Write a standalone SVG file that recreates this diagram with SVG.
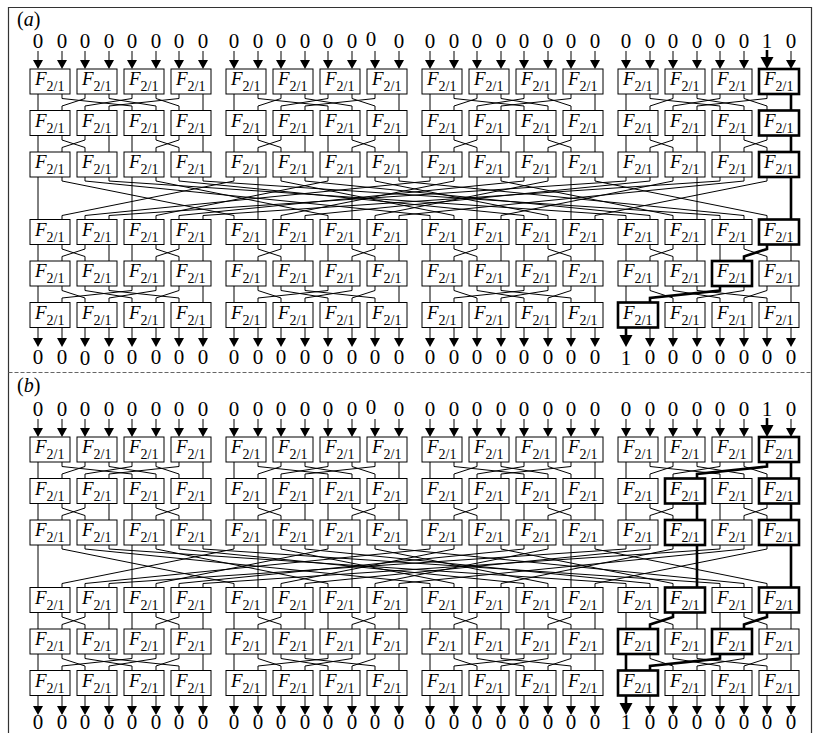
<svg xmlns="http://www.w3.org/2000/svg" width="814" height="733" viewBox="0 0 814 733">
<style>
.n rect{fill:#fff;stroke:#000;stroke-width:1}
.k rect{stroke-width:2.6}
.n text{font-family:"Liberation Serif","Times New Roman",serif;font-style:italic;font-size:19px;fill:#000}
.n tspan{font-style:normal;font-size:14px}
.w{fill:none;stroke:#000;stroke-width:1}
.wb{fill:none;stroke:#000;stroke-width:2.6}
.ah{fill:#000;stroke:none}
.d{font-family:"Liberation Serif","Times New Roman",serif;font-size:21px;text-anchor:middle;fill:#000}
.lb{font-family:"Liberation Serif","Times New Roman",serif;font-size:20px;fill:#000}
</style>
<rect width="814" height="733" fill="#fff"/>
<g id="frame" fill="none" stroke="#333" stroke-width="1.2">
<path d="M8.5 733V7.5H811.5V733"/>
<path d="M8.5 372.5H811.5" stroke="#666" stroke-dasharray="4 2"/>
</g>
<text class="lb" x="17" y="26">(<tspan font-style="italic">a</tspan>)</text>
<text class="lb" x="17" y="392">(<tspan font-style="italic">b</tspan>)</text>
<g id="connectors">
<g id="conn-a">
<path class="w" d="M38 94V110.5M62 94V98.5L132 106V110.5M85 94V98.5L62 106V110.5M109 94V98.5L156 106V110.5M132 94V98.5L85 106V110.5M156 94V98.5L179 106V110.5M179 94V98.5L109 106V110.5M203 94V110.5M234 94V110.5M258 94V98.5L328 106V110.5M281 94V98.5L258 106V110.5M305 94V98.5L352 106V110.5M328 94V98.5L281 106V110.5M352 94V98.5L375 106V110.5M375 94V98.5L305 106V110.5M399 94V110.5M430 94V110.5M454 94V98.5L524 106V110.5M477 94V98.5L454 106V110.5M501 94V98.5L548 106V110.5M524 94V98.5L477 106V110.5M548 94V98.5L571 106V110.5M571 94V98.5L501 106V110.5M595 94V110.5M626 94V110.5M650 94V98.5L720 106V110.5M673 94V98.5L650 106V110.5M697 94V98.5L744 106V110.5M720 94V98.5L673 106V110.5M744 94V98.5L767 106V110.5M767 94V98.5L697 106V110.5M791 94V110.5"/>
<path class="w" d="M38 135.5V152M62 135.5V140L85 147.5V152M85 135.5V140L62 147.5V152M109 135.5V152M132 135.5V152M156 135.5V140L179 147.5V152M179 135.5V140L156 147.5V152M203 135.5V152M234 135.5V152M258 135.5V140L281 147.5V152M281 135.5V140L258 147.5V152M305 135.5V152M328 135.5V152M352 135.5V140L375 147.5V152M375 135.5V140L352 147.5V152M399 135.5V152M430 135.5V152M454 135.5V140L477 147.5V152M477 135.5V140L454 147.5V152M501 135.5V152M524 135.5V152M548 135.5V140L571 147.5V152M571 135.5V140L548 147.5V152M595 135.5V152M626 135.5V152M650 135.5V140L673 147.5V152M673 135.5V140L650 147.5V152M697 135.5V152M720 135.5V152M744 135.5V140L767 147.5V152M767 135.5V140L744 147.5V152M791 135.5V152"/>
<path class="w" d="M38 177V219.5M62 177V181L234 215.5V219.5M85 177V181L430 215.5V219.5M109 177V181L626 215.5V219.5M132 177V219.5M156 177V181L328 215.5V219.5M179 177V181L524 215.5V219.5M203 177V181L720 215.5V219.5M234 177V181L62 215.5V219.5M258 177V219.5M281 177V181L454 215.5V219.5M305 177V181L650 215.5V219.5M328 177V181L156 215.5V219.5M352 177V219.5M375 177V181L548 215.5V219.5M399 177V181L744 215.5V219.5M430 177V181L85 215.5V219.5M454 177V181L281 215.5V219.5M477 177V219.5M501 177V181L673 215.5V219.5M524 177V181L179 215.5V219.5M548 177V181L375 215.5V219.5M571 177V219.5M595 177V181L767 215.5V219.5M626 177V181L109 215.5V219.5M650 177V181L305 215.5V219.5M673 177V181L501 215.5V219.5M697 177V219.5M720 177V181L203 215.5V219.5M744 177V181L399 215.5V219.5M767 177V181L595 215.5V219.5M791 177V219.5"/>
<path class="w" d="M38 244.5V261M62 244.5V249L85 256.5V261M85 244.5V249L62 256.5V261M109 244.5V261M132 244.5V261M156 244.5V249L179 256.5V261M179 244.5V249L156 256.5V261M203 244.5V261M234 244.5V261M258 244.5V249L281 256.5V261M281 244.5V249L258 256.5V261M305 244.5V261M328 244.5V261M352 244.5V249L375 256.5V261M375 244.5V249L352 256.5V261M399 244.5V261M430 244.5V261M454 244.5V249L477 256.5V261M477 244.5V249L454 256.5V261M501 244.5V261M524 244.5V261M548 244.5V249L571 256.5V261M571 244.5V249L548 256.5V261M595 244.5V261M626 244.5V261M650 244.5V249L673 256.5V261M673 244.5V249L650 256.5V261M697 244.5V261M720 244.5V261M744 244.5V249L767 256.5V261M767 244.5V249L744 256.5V261M791 244.5V261"/>
<path class="w" d="M38 286V302.5M62 286V290.5L85 298V302.5M85 286V290.5L132 298V302.5M109 286V290.5L179 298V302.5M132 286V290.5L62 298V302.5M156 286V290.5L109 298V302.5M179 286V290.5L156 298V302.5M203 286V302.5M234 286V302.5M258 286V290.5L281 298V302.5M281 286V290.5L328 298V302.5M305 286V290.5L375 298V302.5M328 286V290.5L258 298V302.5M352 286V290.5L305 298V302.5M375 286V290.5L352 298V302.5M399 286V302.5M430 286V302.5M454 286V290.5L477 298V302.5M477 286V290.5L524 298V302.5M501 286V290.5L571 298V302.5M524 286V290.5L454 298V302.5M548 286V290.5L501 298V302.5M571 286V290.5L548 298V302.5M595 286V302.5M626 286V302.5M650 286V290.5L673 298V302.5M673 286V290.5L720 298V302.5M697 286V290.5L767 298V302.5M720 286V290.5L650 298V302.5M744 286V290.5L697 298V302.5M767 286V290.5L744 298V302.5M791 286V302.5"/>
<path class="wb" d="M791 94V110.5M791 135.5V152M791 177V219.5M767 244.5V249L744 256.5V261M720 286V290.5L650 298V302.5"/>
</g>
<g id="conn-b" transform="translate(0 368)">
<path class="w" d="M38 94V110.5M62 94V98.5L132 106V110.5M85 94V98.5L62 106V110.5M109 94V98.5L156 106V110.5M132 94V98.5L85 106V110.5M156 94V98.5L179 106V110.5M179 94V98.5L109 106V110.5M203 94V110.5M234 94V110.5M258 94V98.5L328 106V110.5M281 94V98.5L258 106V110.5M305 94V98.5L352 106V110.5M328 94V98.5L281 106V110.5M352 94V98.5L375 106V110.5M375 94V98.5L305 106V110.5M399 94V110.5M430 94V110.5M454 94V98.5L524 106V110.5M477 94V98.5L454 106V110.5M501 94V98.5L548 106V110.5M524 94V98.5L477 106V110.5M548 94V98.5L571 106V110.5M571 94V98.5L501 106V110.5M595 94V110.5M626 94V110.5M650 94V98.5L720 106V110.5M673 94V98.5L650 106V110.5M697 94V98.5L744 106V110.5M720 94V98.5L673 106V110.5M744 94V98.5L767 106V110.5M767 94V98.5L697 106V110.5M791 94V110.5"/>
<path class="w" d="M38 135.5V152M62 135.5V140L85 147.5V152M85 135.5V140L62 147.5V152M109 135.5V152M132 135.5V152M156 135.5V140L179 147.5V152M179 135.5V140L156 147.5V152M203 135.5V152M234 135.5V152M258 135.5V140L281 147.5V152M281 135.5V140L258 147.5V152M305 135.5V152M328 135.5V152M352 135.5V140L375 147.5V152M375 135.5V140L352 147.5V152M399 135.5V152M430 135.5V152M454 135.5V140L477 147.5V152M477 135.5V140L454 147.5V152M501 135.5V152M524 135.5V152M548 135.5V140L571 147.5V152M571 135.5V140L548 147.5V152M595 135.5V152M626 135.5V152M650 135.5V140L673 147.5V152M673 135.5V140L650 147.5V152M697 135.5V152M720 135.5V152M744 135.5V140L767 147.5V152M767 135.5V140L744 147.5V152M791 135.5V152"/>
<path class="w" d="M38 177V219.5M62 177V181L234 215.5V219.5M85 177V181L430 215.5V219.5M109 177V181L626 215.5V219.5M132 177V219.5M156 177V181L328 215.5V219.5M179 177V181L524 215.5V219.5M203 177V181L720 215.5V219.5M234 177V181L62 215.5V219.5M258 177V219.5M281 177V181L454 215.5V219.5M305 177V181L650 215.5V219.5M328 177V181L156 215.5V219.5M352 177V219.5M375 177V181L548 215.5V219.5M399 177V181L744 215.5V219.5M430 177V181L85 215.5V219.5M454 177V181L281 215.5V219.5M477 177V219.5M501 177V181L673 215.5V219.5M524 177V181L179 215.5V219.5M548 177V181L375 215.5V219.5M571 177V219.5M595 177V181L767 215.5V219.5M626 177V181L109 215.5V219.5M650 177V181L305 215.5V219.5M673 177V181L501 215.5V219.5M697 177V219.5M720 177V181L203 215.5V219.5M744 177V181L399 215.5V219.5M767 177V181L595 215.5V219.5M791 177V219.5"/>
<path class="w" d="M38 244.5V261M62 244.5V249L85 256.5V261M85 244.5V249L62 256.5V261M109 244.5V261M132 244.5V261M156 244.5V249L179 256.5V261M179 244.5V249L156 256.5V261M203 244.5V261M234 244.5V261M258 244.5V249L281 256.5V261M281 244.5V249L258 256.5V261M305 244.5V261M328 244.5V261M352 244.5V249L375 256.5V261M375 244.5V249L352 256.5V261M399 244.5V261M430 244.5V261M454 244.5V249L477 256.5V261M477 244.5V249L454 256.5V261M501 244.5V261M524 244.5V261M548 244.5V249L571 256.5V261M571 244.5V249L548 256.5V261M595 244.5V261M626 244.5V261M650 244.5V249L673 256.5V261M673 244.5V249L650 256.5V261M697 244.5V261M720 244.5V261M744 244.5V249L767 256.5V261M767 244.5V249L744 256.5V261M791 244.5V261"/>
<path class="w" d="M38 286V302.5M62 286V290.5L85 298V302.5M85 286V290.5L132 298V302.5M109 286V290.5L179 298V302.5M132 286V290.5L62 298V302.5M156 286V290.5L109 298V302.5M179 286V290.5L156 298V302.5M203 286V302.5M234 286V302.5M258 286V290.5L281 298V302.5M281 286V290.5L328 298V302.5M305 286V290.5L375 298V302.5M328 286V290.5L258 298V302.5M352 286V290.5L305 298V302.5M375 286V290.5L352 298V302.5M399 286V302.5M430 286V302.5M454 286V290.5L477 298V302.5M477 286V290.5L524 298V302.5M501 286V290.5L571 298V302.5M524 286V290.5L454 298V302.5M548 286V290.5L501 298V302.5M571 286V290.5L548 298V302.5M595 286V302.5M626 286V302.5M650 286V290.5L673 298V302.5M673 286V290.5L720 298V302.5M697 286V290.5L767 298V302.5M720 286V290.5L650 298V302.5M744 286V290.5L697 298V302.5M767 286V290.5L744 298V302.5M791 286V302.5"/>
<path class="wb" d="M767 94V98.5L697 106V110.5M791 94V110.5M697 135.5V152M791 135.5V152M697 177V219.5M791 177V219.5M673 244.5V249L650 256.5V261M767 244.5V249L744 256.5V261M626 286V302.5M720 286V290.5L650 298V302.5"/>
</g>
<g id="io-arrows-a">
<path class="w" d="M38 51V61M62 51V61M85 51V61M109 51V61M132 51V61M156 51V61M179 51V61M203 51V61M234 51V61M258 51V61M281 51V61M305 51V61M328 51V61M352 51V61M375 51V61M399 51V61M430 51V61M454 51V61M477 51V61M501 51V61M524 51V61M548 51V61M571 51V61M595 51V61M626 51V61M650 51V61M673 51V61M697 51V61M720 51V61M744 51V61M791 51V61"/>
<path class="ah" d="M33 60h10l-5 9zM57 60h10l-5 9zM80 60h10l-5 9zM104 60h10l-5 9zM127 60h10l-5 9zM151 60h10l-5 9zM174 60h10l-5 9zM198 60h10l-5 9zM229 60h10l-5 9zM253 60h10l-5 9zM276 60h10l-5 9zM300 60h10l-5 9zM323 60h10l-5 9zM347 60h10l-5 9zM370 60h10l-5 9zM394 60h10l-5 9zM425 60h10l-5 9zM449 60h10l-5 9zM472 60h10l-5 9zM496 60h10l-5 9zM519 60h10l-5 9zM543 60h10l-5 9zM566 60h10l-5 9zM590 60h10l-5 9zM621 60h10l-5 9zM645 60h10l-5 9zM668 60h10l-5 9zM692 60h10l-5 9zM715 60h10l-5 9zM739 60h10l-5 9zM786 60h10l-5 9z"/>
<path class="wb" d="M767 50V59"/>
<path class="ah" d="M760.5 57h13l-6.5 12z"/>
<path class="w" d="M38 327.5V339M62 327.5V339M85 327.5V339M109 327.5V339M132 327.5V339M156 327.5V339M179 327.5V339M203 327.5V339M234 327.5V339M258 327.5V339M281 327.5V339M305 327.5V339M328 327.5V339M352 327.5V339M375 327.5V339M399 327.5V339M430 327.5V339M454 327.5V339M477 327.5V339M501 327.5V339M524 327.5V339M548 327.5V339M571 327.5V339M595 327.5V339M650 327.5V339M673 327.5V339M697 327.5V339M720 327.5V339M744 327.5V339M767 327.5V339M791 327.5V339"/>
<path class="ah" d="M33 338h10l-5 9zM57 338h10l-5 9zM80 338h10l-5 9zM104 338h10l-5 9zM127 338h10l-5 9zM151 338h10l-5 9zM174 338h10l-5 9zM198 338h10l-5 9zM229 338h10l-5 9zM253 338h10l-5 9zM276 338h10l-5 9zM300 338h10l-5 9zM323 338h10l-5 9zM347 338h10l-5 9zM370 338h10l-5 9zM394 338h10l-5 9zM425 338h10l-5 9zM449 338h10l-5 9zM472 338h10l-5 9zM496 338h10l-5 9zM519 338h10l-5 9zM543 338h10l-5 9zM566 338h10l-5 9zM590 338h10l-5 9zM645 338h10l-5 9zM668 338h10l-5 9zM692 338h10l-5 9zM715 338h10l-5 9zM739 338h10l-5 9zM762 338h10l-5 9zM786 338h10l-5 9z"/>
<path class="wb" d="M626 327.5V337"/>
<path class="ah" d="M619.5 335h13l-6.5 12z"/>
</g>
<g id="io-arrows-b" transform="translate(0 368)">
<path class="w" d="M38 51V61M62 51V61M85 51V61M109 51V61M132 51V61M156 51V61M179 51V61M203 51V61M234 51V61M258 51V61M281 51V61M305 51V61M328 51V61M352 51V61M375 51V61M399 51V61M430 51V61M454 51V61M477 51V61M501 51V61M524 51V61M548 51V61M571 51V61M595 51V61M626 51V61M650 51V61M673 51V61M697 51V61M720 51V61M744 51V61M791 51V61"/>
<path class="ah" d="M33 60h10l-5 9zM57 60h10l-5 9zM80 60h10l-5 9zM104 60h10l-5 9zM127 60h10l-5 9zM151 60h10l-5 9zM174 60h10l-5 9zM198 60h10l-5 9zM229 60h10l-5 9zM253 60h10l-5 9zM276 60h10l-5 9zM300 60h10l-5 9zM323 60h10l-5 9zM347 60h10l-5 9zM370 60h10l-5 9zM394 60h10l-5 9zM425 60h10l-5 9zM449 60h10l-5 9zM472 60h10l-5 9zM496 60h10l-5 9zM519 60h10l-5 9zM543 60h10l-5 9zM566 60h10l-5 9zM590 60h10l-5 9zM621 60h10l-5 9zM645 60h10l-5 9zM668 60h10l-5 9zM692 60h10l-5 9zM715 60h10l-5 9zM739 60h10l-5 9zM786 60h10l-5 9z"/>
<path class="wb" d="M767 50V59"/>
<path class="ah" d="M760.5 57h13l-6.5 12z"/>
<path class="w" d="M38 327.5V339M62 327.5V339M85 327.5V339M109 327.5V339M132 327.5V339M156 327.5V339M179 327.5V339M203 327.5V339M234 327.5V339M258 327.5V339M281 327.5V339M305 327.5V339M328 327.5V339M352 327.5V339M375 327.5V339M399 327.5V339M430 327.5V339M454 327.5V339M477 327.5V339M501 327.5V339M524 327.5V339M548 327.5V339M571 327.5V339M595 327.5V339M650 327.5V339M673 327.5V339M697 327.5V339M720 327.5V339M744 327.5V339M767 327.5V339M791 327.5V339"/>
<path class="ah" d="M33 338h10l-5 9zM57 338h10l-5 9zM80 338h10l-5 9zM104 338h10l-5 9zM127 338h10l-5 9zM151 338h10l-5 9zM174 338h10l-5 9zM198 338h10l-5 9zM229 338h10l-5 9zM253 338h10l-5 9zM276 338h10l-5 9zM300 338h10l-5 9zM323 338h10l-5 9zM347 338h10l-5 9zM370 338h10l-5 9zM394 338h10l-5 9zM425 338h10l-5 9zM449 338h10l-5 9zM472 338h10l-5 9zM496 338h10l-5 9zM519 338h10l-5 9zM543 338h10l-5 9zM566 338h10l-5 9zM590 338h10l-5 9zM645 338h10l-5 9zM668 338h10l-5 9zM692 338h10l-5 9zM715 338h10l-5 9zM739 338h10l-5 9zM762 338h10l-5 9zM786 338h10l-5 9z"/>
<path class="wb" d="M626 327.5V337"/>
<path class="ah" d="M619.5 335h13l-6.5 12z"/>
</g>
</g>
<g id="nodes-a">
<g id="a-r1-c1" class="n" transform="translate(30 69)"><rect width="40" height="25"/><text x="5" y="16">F<tspan dy="6">2/1</tspan></text></g>
<g id="a-r1-c2" class="n" transform="translate(77 69)"><rect width="40" height="25"/><text x="5" y="16">F<tspan dy="6">2/1</tspan></text></g>
<g id="a-r1-c3" class="n" transform="translate(124 69)"><rect width="40" height="25"/><text x="5" y="16">F<tspan dy="6">2/1</tspan></text></g>
<g id="a-r1-c4" class="n" transform="translate(171 69)"><rect width="40" height="25"/><text x="5" y="16">F<tspan dy="6">2/1</tspan></text></g>
<g id="a-r1-c5" class="n" transform="translate(226 69)"><rect width="40" height="25"/><text x="5" y="16">F<tspan dy="6">2/1</tspan></text></g>
<g id="a-r1-c6" class="n" transform="translate(273 69)"><rect width="40" height="25"/><text x="5" y="16">F<tspan dy="6">2/1</tspan></text></g>
<g id="a-r1-c7" class="n" transform="translate(320 69)"><rect width="40" height="25"/><text x="5" y="16">F<tspan dy="6">2/1</tspan></text></g>
<g id="a-r1-c8" class="n" transform="translate(367 69)"><rect width="40" height="25"/><text x="5" y="16">F<tspan dy="6">2/1</tspan></text></g>
<g id="a-r1-c9" class="n" transform="translate(422 69)"><rect width="40" height="25"/><text x="5" y="16">F<tspan dy="6">2/1</tspan></text></g>
<g id="a-r1-c10" class="n" transform="translate(469 69)"><rect width="40" height="25"/><text x="5" y="16">F<tspan dy="6">2/1</tspan></text></g>
<g id="a-r1-c11" class="n" transform="translate(516 69)"><rect width="40" height="25"/><text x="5" y="16">F<tspan dy="6">2/1</tspan></text></g>
<g id="a-r1-c12" class="n" transform="translate(563 69)"><rect width="40" height="25"/><text x="5" y="16">F<tspan dy="6">2/1</tspan></text></g>
<g id="a-r1-c13" class="n" transform="translate(618 69)"><rect width="40" height="25"/><text x="5" y="16">F<tspan dy="6">2/1</tspan></text></g>
<g id="a-r1-c14" class="n" transform="translate(665 69)"><rect width="40" height="25"/><text x="5" y="16">F<tspan dy="6">2/1</tspan></text></g>
<g id="a-r1-c15" class="n" transform="translate(712 69)"><rect width="40" height="25"/><text x="5" y="16">F<tspan dy="6">2/1</tspan></text></g>
<g id="a-r1-c16" class="n k" transform="translate(759 69)"><rect width="40" height="25"/><text x="5" y="16">F<tspan dy="6">2/1</tspan></text></g>
<g id="a-r2-c1" class="n" transform="translate(30 110.5)"><rect width="40" height="25"/><text x="5" y="16">F<tspan dy="6">2/1</tspan></text></g>
<g id="a-r2-c2" class="n" transform="translate(77 110.5)"><rect width="40" height="25"/><text x="5" y="16">F<tspan dy="6">2/1</tspan></text></g>
<g id="a-r2-c3" class="n" transform="translate(124 110.5)"><rect width="40" height="25"/><text x="5" y="16">F<tspan dy="6">2/1</tspan></text></g>
<g id="a-r2-c4" class="n" transform="translate(171 110.5)"><rect width="40" height="25"/><text x="5" y="16">F<tspan dy="6">2/1</tspan></text></g>
<g id="a-r2-c5" class="n" transform="translate(226 110.5)"><rect width="40" height="25"/><text x="5" y="16">F<tspan dy="6">2/1</tspan></text></g>
<g id="a-r2-c6" class="n" transform="translate(273 110.5)"><rect width="40" height="25"/><text x="5" y="16">F<tspan dy="6">2/1</tspan></text></g>
<g id="a-r2-c7" class="n" transform="translate(320 110.5)"><rect width="40" height="25"/><text x="5" y="16">F<tspan dy="6">2/1</tspan></text></g>
<g id="a-r2-c8" class="n" transform="translate(367 110.5)"><rect width="40" height="25"/><text x="5" y="16">F<tspan dy="6">2/1</tspan></text></g>
<g id="a-r2-c9" class="n" transform="translate(422 110.5)"><rect width="40" height="25"/><text x="5" y="16">F<tspan dy="6">2/1</tspan></text></g>
<g id="a-r2-c10" class="n" transform="translate(469 110.5)"><rect width="40" height="25"/><text x="5" y="16">F<tspan dy="6">2/1</tspan></text></g>
<g id="a-r2-c11" class="n" transform="translate(516 110.5)"><rect width="40" height="25"/><text x="5" y="16">F<tspan dy="6">2/1</tspan></text></g>
<g id="a-r2-c12" class="n" transform="translate(563 110.5)"><rect width="40" height="25"/><text x="5" y="16">F<tspan dy="6">2/1</tspan></text></g>
<g id="a-r2-c13" class="n" transform="translate(618 110.5)"><rect width="40" height="25"/><text x="5" y="16">F<tspan dy="6">2/1</tspan></text></g>
<g id="a-r2-c14" class="n" transform="translate(665 110.5)"><rect width="40" height="25"/><text x="5" y="16">F<tspan dy="6">2/1</tspan></text></g>
<g id="a-r2-c15" class="n" transform="translate(712 110.5)"><rect width="40" height="25"/><text x="5" y="16">F<tspan dy="6">2/1</tspan></text></g>
<g id="a-r2-c16" class="n k" transform="translate(759 110.5)"><rect width="40" height="25"/><text x="5" y="16">F<tspan dy="6">2/1</tspan></text></g>
<g id="a-r3-c1" class="n" transform="translate(30 152)"><rect width="40" height="25"/><text x="5" y="16">F<tspan dy="6">2/1</tspan></text></g>
<g id="a-r3-c2" class="n" transform="translate(77 152)"><rect width="40" height="25"/><text x="5" y="16">F<tspan dy="6">2/1</tspan></text></g>
<g id="a-r3-c3" class="n" transform="translate(124 152)"><rect width="40" height="25"/><text x="5" y="16">F<tspan dy="6">2/1</tspan></text></g>
<g id="a-r3-c4" class="n" transform="translate(171 152)"><rect width="40" height="25"/><text x="5" y="16">F<tspan dy="6">2/1</tspan></text></g>
<g id="a-r3-c5" class="n" transform="translate(226 152)"><rect width="40" height="25"/><text x="5" y="16">F<tspan dy="6">2/1</tspan></text></g>
<g id="a-r3-c6" class="n" transform="translate(273 152)"><rect width="40" height="25"/><text x="5" y="16">F<tspan dy="6">2/1</tspan></text></g>
<g id="a-r3-c7" class="n" transform="translate(320 152)"><rect width="40" height="25"/><text x="5" y="16">F<tspan dy="6">2/1</tspan></text></g>
<g id="a-r3-c8" class="n" transform="translate(367 152)"><rect width="40" height="25"/><text x="5" y="16">F<tspan dy="6">2/1</tspan></text></g>
<g id="a-r3-c9" class="n" transform="translate(422 152)"><rect width="40" height="25"/><text x="5" y="16">F<tspan dy="6">2/1</tspan></text></g>
<g id="a-r3-c10" class="n" transform="translate(469 152)"><rect width="40" height="25"/><text x="5" y="16">F<tspan dy="6">2/1</tspan></text></g>
<g id="a-r3-c11" class="n" transform="translate(516 152)"><rect width="40" height="25"/><text x="5" y="16">F<tspan dy="6">2/1</tspan></text></g>
<g id="a-r3-c12" class="n" transform="translate(563 152)"><rect width="40" height="25"/><text x="5" y="16">F<tspan dy="6">2/1</tspan></text></g>
<g id="a-r3-c13" class="n" transform="translate(618 152)"><rect width="40" height="25"/><text x="5" y="16">F<tspan dy="6">2/1</tspan></text></g>
<g id="a-r3-c14" class="n" transform="translate(665 152)"><rect width="40" height="25"/><text x="5" y="16">F<tspan dy="6">2/1</tspan></text></g>
<g id="a-r3-c15" class="n" transform="translate(712 152)"><rect width="40" height="25"/><text x="5" y="16">F<tspan dy="6">2/1</tspan></text></g>
<g id="a-r3-c16" class="n k" transform="translate(759 152)"><rect width="40" height="25"/><text x="5" y="16">F<tspan dy="6">2/1</tspan></text></g>
<g id="a-r4-c1" class="n" transform="translate(30 219.5)"><rect width="40" height="25"/><text x="5" y="16">F<tspan dy="6">2/1</tspan></text></g>
<g id="a-r4-c2" class="n" transform="translate(77 219.5)"><rect width="40" height="25"/><text x="5" y="16">F<tspan dy="6">2/1</tspan></text></g>
<g id="a-r4-c3" class="n" transform="translate(124 219.5)"><rect width="40" height="25"/><text x="5" y="16">F<tspan dy="6">2/1</tspan></text></g>
<g id="a-r4-c4" class="n" transform="translate(171 219.5)"><rect width="40" height="25"/><text x="5" y="16">F<tspan dy="6">2/1</tspan></text></g>
<g id="a-r4-c5" class="n" transform="translate(226 219.5)"><rect width="40" height="25"/><text x="5" y="16">F<tspan dy="6">2/1</tspan></text></g>
<g id="a-r4-c6" class="n" transform="translate(273 219.5)"><rect width="40" height="25"/><text x="5" y="16">F<tspan dy="6">2/1</tspan></text></g>
<g id="a-r4-c7" class="n" transform="translate(320 219.5)"><rect width="40" height="25"/><text x="5" y="16">F<tspan dy="6">2/1</tspan></text></g>
<g id="a-r4-c8" class="n" transform="translate(367 219.5)"><rect width="40" height="25"/><text x="5" y="16">F<tspan dy="6">2/1</tspan></text></g>
<g id="a-r4-c9" class="n" transform="translate(422 219.5)"><rect width="40" height="25"/><text x="5" y="16">F<tspan dy="6">2/1</tspan></text></g>
<g id="a-r4-c10" class="n" transform="translate(469 219.5)"><rect width="40" height="25"/><text x="5" y="16">F<tspan dy="6">2/1</tspan></text></g>
<g id="a-r4-c11" class="n" transform="translate(516 219.5)"><rect width="40" height="25"/><text x="5" y="16">F<tspan dy="6">2/1</tspan></text></g>
<g id="a-r4-c12" class="n" transform="translate(563 219.5)"><rect width="40" height="25"/><text x="5" y="16">F<tspan dy="6">2/1</tspan></text></g>
<g id="a-r4-c13" class="n" transform="translate(618 219.5)"><rect width="40" height="25"/><text x="5" y="16">F<tspan dy="6">2/1</tspan></text></g>
<g id="a-r4-c14" class="n" transform="translate(665 219.5)"><rect width="40" height="25"/><text x="5" y="16">F<tspan dy="6">2/1</tspan></text></g>
<g id="a-r4-c15" class="n" transform="translate(712 219.5)"><rect width="40" height="25"/><text x="5" y="16">F<tspan dy="6">2/1</tspan></text></g>
<g id="a-r4-c16" class="n k" transform="translate(759 219.5)"><rect width="40" height="25"/><text x="5" y="16">F<tspan dy="6">2/1</tspan></text></g>
<g id="a-r5-c1" class="n" transform="translate(30 261)"><rect width="40" height="25"/><text x="5" y="16">F<tspan dy="6">2/1</tspan></text></g>
<g id="a-r5-c2" class="n" transform="translate(77 261)"><rect width="40" height="25"/><text x="5" y="16">F<tspan dy="6">2/1</tspan></text></g>
<g id="a-r5-c3" class="n" transform="translate(124 261)"><rect width="40" height="25"/><text x="5" y="16">F<tspan dy="6">2/1</tspan></text></g>
<g id="a-r5-c4" class="n" transform="translate(171 261)"><rect width="40" height="25"/><text x="5" y="16">F<tspan dy="6">2/1</tspan></text></g>
<g id="a-r5-c5" class="n" transform="translate(226 261)"><rect width="40" height="25"/><text x="5" y="16">F<tspan dy="6">2/1</tspan></text></g>
<g id="a-r5-c6" class="n" transform="translate(273 261)"><rect width="40" height="25"/><text x="5" y="16">F<tspan dy="6">2/1</tspan></text></g>
<g id="a-r5-c7" class="n" transform="translate(320 261)"><rect width="40" height="25"/><text x="5" y="16">F<tspan dy="6">2/1</tspan></text></g>
<g id="a-r5-c8" class="n" transform="translate(367 261)"><rect width="40" height="25"/><text x="5" y="16">F<tspan dy="6">2/1</tspan></text></g>
<g id="a-r5-c9" class="n" transform="translate(422 261)"><rect width="40" height="25"/><text x="5" y="16">F<tspan dy="6">2/1</tspan></text></g>
<g id="a-r5-c10" class="n" transform="translate(469 261)"><rect width="40" height="25"/><text x="5" y="16">F<tspan dy="6">2/1</tspan></text></g>
<g id="a-r5-c11" class="n" transform="translate(516 261)"><rect width="40" height="25"/><text x="5" y="16">F<tspan dy="6">2/1</tspan></text></g>
<g id="a-r5-c12" class="n" transform="translate(563 261)"><rect width="40" height="25"/><text x="5" y="16">F<tspan dy="6">2/1</tspan></text></g>
<g id="a-r5-c13" class="n" transform="translate(618 261)"><rect width="40" height="25"/><text x="5" y="16">F<tspan dy="6">2/1</tspan></text></g>
<g id="a-r5-c14" class="n" transform="translate(665 261)"><rect width="40" height="25"/><text x="5" y="16">F<tspan dy="6">2/1</tspan></text></g>
<g id="a-r5-c15" class="n k" transform="translate(712 261)"><rect width="40" height="25"/><text x="5" y="16">F<tspan dy="6">2/1</tspan></text></g>
<g id="a-r5-c16" class="n" transform="translate(759 261)"><rect width="40" height="25"/><text x="5" y="16">F<tspan dy="6">2/1</tspan></text></g>
<g id="a-r6-c1" class="n" transform="translate(30 302.5)"><rect width="40" height="25"/><text x="5" y="16">F<tspan dy="6">2/1</tspan></text></g>
<g id="a-r6-c2" class="n" transform="translate(77 302.5)"><rect width="40" height="25"/><text x="5" y="16">F<tspan dy="6">2/1</tspan></text></g>
<g id="a-r6-c3" class="n" transform="translate(124 302.5)"><rect width="40" height="25"/><text x="5" y="16">F<tspan dy="6">2/1</tspan></text></g>
<g id="a-r6-c4" class="n" transform="translate(171 302.5)"><rect width="40" height="25"/><text x="5" y="16">F<tspan dy="6">2/1</tspan></text></g>
<g id="a-r6-c5" class="n" transform="translate(226 302.5)"><rect width="40" height="25"/><text x="5" y="16">F<tspan dy="6">2/1</tspan></text></g>
<g id="a-r6-c6" class="n" transform="translate(273 302.5)"><rect width="40" height="25"/><text x="5" y="16">F<tspan dy="6">2/1</tspan></text></g>
<g id="a-r6-c7" class="n" transform="translate(320 302.5)"><rect width="40" height="25"/><text x="5" y="16">F<tspan dy="6">2/1</tspan></text></g>
<g id="a-r6-c8" class="n" transform="translate(367 302.5)"><rect width="40" height="25"/><text x="5" y="16">F<tspan dy="6">2/1</tspan></text></g>
<g id="a-r6-c9" class="n" transform="translate(422 302.5)"><rect width="40" height="25"/><text x="5" y="16">F<tspan dy="6">2/1</tspan></text></g>
<g id="a-r6-c10" class="n" transform="translate(469 302.5)"><rect width="40" height="25"/><text x="5" y="16">F<tspan dy="6">2/1</tspan></text></g>
<g id="a-r6-c11" class="n" transform="translate(516 302.5)"><rect width="40" height="25"/><text x="5" y="16">F<tspan dy="6">2/1</tspan></text></g>
<g id="a-r6-c12" class="n" transform="translate(563 302.5)"><rect width="40" height="25"/><text x="5" y="16">F<tspan dy="6">2/1</tspan></text></g>
<g id="a-r6-c13" class="n k" transform="translate(618 302.5)"><rect width="40" height="25"/><text x="5" y="16">F<tspan dy="6">2/1</tspan></text></g>
<g id="a-r6-c14" class="n" transform="translate(665 302.5)"><rect width="40" height="25"/><text x="5" y="16">F<tspan dy="6">2/1</tspan></text></g>
<g id="a-r6-c15" class="n" transform="translate(712 302.5)"><rect width="40" height="25"/><text x="5" y="16">F<tspan dy="6">2/1</tspan></text></g>
<g id="a-r6-c16" class="n" transform="translate(759 302.5)"><rect width="40" height="25"/><text x="5" y="16">F<tspan dy="6">2/1</tspan></text></g>
</g>
<g id="nodes-b" transform="translate(0 368)">
<g id="b-r1-c1" class="n" transform="translate(30 69)"><rect width="40" height="25"/><text x="5" y="16">F<tspan dy="6">2/1</tspan></text></g>
<g id="b-r1-c2" class="n" transform="translate(77 69)"><rect width="40" height="25"/><text x="5" y="16">F<tspan dy="6">2/1</tspan></text></g>
<g id="b-r1-c3" class="n" transform="translate(124 69)"><rect width="40" height="25"/><text x="5" y="16">F<tspan dy="6">2/1</tspan></text></g>
<g id="b-r1-c4" class="n" transform="translate(171 69)"><rect width="40" height="25"/><text x="5" y="16">F<tspan dy="6">2/1</tspan></text></g>
<g id="b-r1-c5" class="n" transform="translate(226 69)"><rect width="40" height="25"/><text x="5" y="16">F<tspan dy="6">2/1</tspan></text></g>
<g id="b-r1-c6" class="n" transform="translate(273 69)"><rect width="40" height="25"/><text x="5" y="16">F<tspan dy="6">2/1</tspan></text></g>
<g id="b-r1-c7" class="n" transform="translate(320 69)"><rect width="40" height="25"/><text x="5" y="16">F<tspan dy="6">2/1</tspan></text></g>
<g id="b-r1-c8" class="n" transform="translate(367 69)"><rect width="40" height="25"/><text x="5" y="16">F<tspan dy="6">2/1</tspan></text></g>
<g id="b-r1-c9" class="n" transform="translate(422 69)"><rect width="40" height="25"/><text x="5" y="16">F<tspan dy="6">2/1</tspan></text></g>
<g id="b-r1-c10" class="n" transform="translate(469 69)"><rect width="40" height="25"/><text x="5" y="16">F<tspan dy="6">2/1</tspan></text></g>
<g id="b-r1-c11" class="n" transform="translate(516 69)"><rect width="40" height="25"/><text x="5" y="16">F<tspan dy="6">2/1</tspan></text></g>
<g id="b-r1-c12" class="n" transform="translate(563 69)"><rect width="40" height="25"/><text x="5" y="16">F<tspan dy="6">2/1</tspan></text></g>
<g id="b-r1-c13" class="n" transform="translate(618 69)"><rect width="40" height="25"/><text x="5" y="16">F<tspan dy="6">2/1</tspan></text></g>
<g id="b-r1-c14" class="n" transform="translate(665 69)"><rect width="40" height="25"/><text x="5" y="16">F<tspan dy="6">2/1</tspan></text></g>
<g id="b-r1-c15" class="n" transform="translate(712 69)"><rect width="40" height="25"/><text x="5" y="16">F<tspan dy="6">2/1</tspan></text></g>
<g id="b-r1-c16" class="n k" transform="translate(759 69)"><rect width="40" height="25"/><text x="5" y="16">F<tspan dy="6">2/1</tspan></text></g>
<g id="b-r2-c1" class="n" transform="translate(30 110.5)"><rect width="40" height="25"/><text x="5" y="16">F<tspan dy="6">2/1</tspan></text></g>
<g id="b-r2-c2" class="n" transform="translate(77 110.5)"><rect width="40" height="25"/><text x="5" y="16">F<tspan dy="6">2/1</tspan></text></g>
<g id="b-r2-c3" class="n" transform="translate(124 110.5)"><rect width="40" height="25"/><text x="5" y="16">F<tspan dy="6">2/1</tspan></text></g>
<g id="b-r2-c4" class="n" transform="translate(171 110.5)"><rect width="40" height="25"/><text x="5" y="16">F<tspan dy="6">2/1</tspan></text></g>
<g id="b-r2-c5" class="n" transform="translate(226 110.5)"><rect width="40" height="25"/><text x="5" y="16">F<tspan dy="6">2/1</tspan></text></g>
<g id="b-r2-c6" class="n" transform="translate(273 110.5)"><rect width="40" height="25"/><text x="5" y="16">F<tspan dy="6">2/1</tspan></text></g>
<g id="b-r2-c7" class="n" transform="translate(320 110.5)"><rect width="40" height="25"/><text x="5" y="16">F<tspan dy="6">2/1</tspan></text></g>
<g id="b-r2-c8" class="n" transform="translate(367 110.5)"><rect width="40" height="25"/><text x="5" y="16">F<tspan dy="6">2/1</tspan></text></g>
<g id="b-r2-c9" class="n" transform="translate(422 110.5)"><rect width="40" height="25"/><text x="5" y="16">F<tspan dy="6">2/1</tspan></text></g>
<g id="b-r2-c10" class="n" transform="translate(469 110.5)"><rect width="40" height="25"/><text x="5" y="16">F<tspan dy="6">2/1</tspan></text></g>
<g id="b-r2-c11" class="n" transform="translate(516 110.5)"><rect width="40" height="25"/><text x="5" y="16">F<tspan dy="6">2/1</tspan></text></g>
<g id="b-r2-c12" class="n" transform="translate(563 110.5)"><rect width="40" height="25"/><text x="5" y="16">F<tspan dy="6">2/1</tspan></text></g>
<g id="b-r2-c13" class="n" transform="translate(618 110.5)"><rect width="40" height="25"/><text x="5" y="16">F<tspan dy="6">2/1</tspan></text></g>
<g id="b-r2-c14" class="n k" transform="translate(665 110.5)"><rect width="40" height="25"/><text x="5" y="16">F<tspan dy="6">2/1</tspan></text></g>
<g id="b-r2-c15" class="n" transform="translate(712 110.5)"><rect width="40" height="25"/><text x="5" y="16">F<tspan dy="6">2/1</tspan></text></g>
<g id="b-r2-c16" class="n k" transform="translate(759 110.5)"><rect width="40" height="25"/><text x="5" y="16">F<tspan dy="6">2/1</tspan></text></g>
<g id="b-r3-c1" class="n" transform="translate(30 152)"><rect width="40" height="25"/><text x="5" y="16">F<tspan dy="6">2/1</tspan></text></g>
<g id="b-r3-c2" class="n" transform="translate(77 152)"><rect width="40" height="25"/><text x="5" y="16">F<tspan dy="6">2/1</tspan></text></g>
<g id="b-r3-c3" class="n" transform="translate(124 152)"><rect width="40" height="25"/><text x="5" y="16">F<tspan dy="6">2/1</tspan></text></g>
<g id="b-r3-c4" class="n" transform="translate(171 152)"><rect width="40" height="25"/><text x="5" y="16">F<tspan dy="6">2/1</tspan></text></g>
<g id="b-r3-c5" class="n" transform="translate(226 152)"><rect width="40" height="25"/><text x="5" y="16">F<tspan dy="6">2/1</tspan></text></g>
<g id="b-r3-c6" class="n" transform="translate(273 152)"><rect width="40" height="25"/><text x="5" y="16">F<tspan dy="6">2/1</tspan></text></g>
<g id="b-r3-c7" class="n" transform="translate(320 152)"><rect width="40" height="25"/><text x="5" y="16">F<tspan dy="6">2/1</tspan></text></g>
<g id="b-r3-c8" class="n" transform="translate(367 152)"><rect width="40" height="25"/><text x="5" y="16">F<tspan dy="6">2/1</tspan></text></g>
<g id="b-r3-c9" class="n" transform="translate(422 152)"><rect width="40" height="25"/><text x="5" y="16">F<tspan dy="6">2/1</tspan></text></g>
<g id="b-r3-c10" class="n" transform="translate(469 152)"><rect width="40" height="25"/><text x="5" y="16">F<tspan dy="6">2/1</tspan></text></g>
<g id="b-r3-c11" class="n" transform="translate(516 152)"><rect width="40" height="25"/><text x="5" y="16">F<tspan dy="6">2/1</tspan></text></g>
<g id="b-r3-c12" class="n" transform="translate(563 152)"><rect width="40" height="25"/><text x="5" y="16">F<tspan dy="6">2/1</tspan></text></g>
<g id="b-r3-c13" class="n" transform="translate(618 152)"><rect width="40" height="25"/><text x="5" y="16">F<tspan dy="6">2/1</tspan></text></g>
<g id="b-r3-c14" class="n k" transform="translate(665 152)"><rect width="40" height="25"/><text x="5" y="16">F<tspan dy="6">2/1</tspan></text></g>
<g id="b-r3-c15" class="n" transform="translate(712 152)"><rect width="40" height="25"/><text x="5" y="16">F<tspan dy="6">2/1</tspan></text></g>
<g id="b-r3-c16" class="n k" transform="translate(759 152)"><rect width="40" height="25"/><text x="5" y="16">F<tspan dy="6">2/1</tspan></text></g>
<g id="b-r4-c1" class="n" transform="translate(30 219.5)"><rect width="40" height="25"/><text x="5" y="16">F<tspan dy="6">2/1</tspan></text></g>
<g id="b-r4-c2" class="n" transform="translate(77 219.5)"><rect width="40" height="25"/><text x="5" y="16">F<tspan dy="6">2/1</tspan></text></g>
<g id="b-r4-c3" class="n" transform="translate(124 219.5)"><rect width="40" height="25"/><text x="5" y="16">F<tspan dy="6">2/1</tspan></text></g>
<g id="b-r4-c4" class="n" transform="translate(171 219.5)"><rect width="40" height="25"/><text x="5" y="16">F<tspan dy="6">2/1</tspan></text></g>
<g id="b-r4-c5" class="n" transform="translate(226 219.5)"><rect width="40" height="25"/><text x="5" y="16">F<tspan dy="6">2/1</tspan></text></g>
<g id="b-r4-c6" class="n" transform="translate(273 219.5)"><rect width="40" height="25"/><text x="5" y="16">F<tspan dy="6">2/1</tspan></text></g>
<g id="b-r4-c7" class="n" transform="translate(320 219.5)"><rect width="40" height="25"/><text x="5" y="16">F<tspan dy="6">2/1</tspan></text></g>
<g id="b-r4-c8" class="n" transform="translate(367 219.5)"><rect width="40" height="25"/><text x="5" y="16">F<tspan dy="6">2/1</tspan></text></g>
<g id="b-r4-c9" class="n" transform="translate(422 219.5)"><rect width="40" height="25"/><text x="5" y="16">F<tspan dy="6">2/1</tspan></text></g>
<g id="b-r4-c10" class="n" transform="translate(469 219.5)"><rect width="40" height="25"/><text x="5" y="16">F<tspan dy="6">2/1</tspan></text></g>
<g id="b-r4-c11" class="n" transform="translate(516 219.5)"><rect width="40" height="25"/><text x="5" y="16">F<tspan dy="6">2/1</tspan></text></g>
<g id="b-r4-c12" class="n" transform="translate(563 219.5)"><rect width="40" height="25"/><text x="5" y="16">F<tspan dy="6">2/1</tspan></text></g>
<g id="b-r4-c13" class="n" transform="translate(618 219.5)"><rect width="40" height="25"/><text x="5" y="16">F<tspan dy="6">2/1</tspan></text></g>
<g id="b-r4-c14" class="n k" transform="translate(665 219.5)"><rect width="40" height="25"/><text x="5" y="16">F<tspan dy="6">2/1</tspan></text></g>
<g id="b-r4-c15" class="n" transform="translate(712 219.5)"><rect width="40" height="25"/><text x="5" y="16">F<tspan dy="6">2/1</tspan></text></g>
<g id="b-r4-c16" class="n k" transform="translate(759 219.5)"><rect width="40" height="25"/><text x="5" y="16">F<tspan dy="6">2/1</tspan></text></g>
<g id="b-r5-c1" class="n" transform="translate(30 261)"><rect width="40" height="25"/><text x="5" y="16">F<tspan dy="6">2/1</tspan></text></g>
<g id="b-r5-c2" class="n" transform="translate(77 261)"><rect width="40" height="25"/><text x="5" y="16">F<tspan dy="6">2/1</tspan></text></g>
<g id="b-r5-c3" class="n" transform="translate(124 261)"><rect width="40" height="25"/><text x="5" y="16">F<tspan dy="6">2/1</tspan></text></g>
<g id="b-r5-c4" class="n" transform="translate(171 261)"><rect width="40" height="25"/><text x="5" y="16">F<tspan dy="6">2/1</tspan></text></g>
<g id="b-r5-c5" class="n" transform="translate(226 261)"><rect width="40" height="25"/><text x="5" y="16">F<tspan dy="6">2/1</tspan></text></g>
<g id="b-r5-c6" class="n" transform="translate(273 261)"><rect width="40" height="25"/><text x="5" y="16">F<tspan dy="6">2/1</tspan></text></g>
<g id="b-r5-c7" class="n" transform="translate(320 261)"><rect width="40" height="25"/><text x="5" y="16">F<tspan dy="6">2/1</tspan></text></g>
<g id="b-r5-c8" class="n" transform="translate(367 261)"><rect width="40" height="25"/><text x="5" y="16">F<tspan dy="6">2/1</tspan></text></g>
<g id="b-r5-c9" class="n" transform="translate(422 261)"><rect width="40" height="25"/><text x="5" y="16">F<tspan dy="6">2/1</tspan></text></g>
<g id="b-r5-c10" class="n" transform="translate(469 261)"><rect width="40" height="25"/><text x="5" y="16">F<tspan dy="6">2/1</tspan></text></g>
<g id="b-r5-c11" class="n" transform="translate(516 261)"><rect width="40" height="25"/><text x="5" y="16">F<tspan dy="6">2/1</tspan></text></g>
<g id="b-r5-c12" class="n" transform="translate(563 261)"><rect width="40" height="25"/><text x="5" y="16">F<tspan dy="6">2/1</tspan></text></g>
<g id="b-r5-c13" class="n k" transform="translate(618 261)"><rect width="40" height="25"/><text x="5" y="16">F<tspan dy="6">2/1</tspan></text></g>
<g id="b-r5-c14" class="n" transform="translate(665 261)"><rect width="40" height="25"/><text x="5" y="16">F<tspan dy="6">2/1</tspan></text></g>
<g id="b-r5-c15" class="n k" transform="translate(712 261)"><rect width="40" height="25"/><text x="5" y="16">F<tspan dy="6">2/1</tspan></text></g>
<g id="b-r5-c16" class="n" transform="translate(759 261)"><rect width="40" height="25"/><text x="5" y="16">F<tspan dy="6">2/1</tspan></text></g>
<g id="b-r6-c1" class="n" transform="translate(30 302.5)"><rect width="40" height="25"/><text x="5" y="16">F<tspan dy="6">2/1</tspan></text></g>
<g id="b-r6-c2" class="n" transform="translate(77 302.5)"><rect width="40" height="25"/><text x="5" y="16">F<tspan dy="6">2/1</tspan></text></g>
<g id="b-r6-c3" class="n" transform="translate(124 302.5)"><rect width="40" height="25"/><text x="5" y="16">F<tspan dy="6">2/1</tspan></text></g>
<g id="b-r6-c4" class="n" transform="translate(171 302.5)"><rect width="40" height="25"/><text x="5" y="16">F<tspan dy="6">2/1</tspan></text></g>
<g id="b-r6-c5" class="n" transform="translate(226 302.5)"><rect width="40" height="25"/><text x="5" y="16">F<tspan dy="6">2/1</tspan></text></g>
<g id="b-r6-c6" class="n" transform="translate(273 302.5)"><rect width="40" height="25"/><text x="5" y="16">F<tspan dy="6">2/1</tspan></text></g>
<g id="b-r6-c7" class="n" transform="translate(320 302.5)"><rect width="40" height="25"/><text x="5" y="16">F<tspan dy="6">2/1</tspan></text></g>
<g id="b-r6-c8" class="n" transform="translate(367 302.5)"><rect width="40" height="25"/><text x="5" y="16">F<tspan dy="6">2/1</tspan></text></g>
<g id="b-r6-c9" class="n" transform="translate(422 302.5)"><rect width="40" height="25"/><text x="5" y="16">F<tspan dy="6">2/1</tspan></text></g>
<g id="b-r6-c10" class="n" transform="translate(469 302.5)"><rect width="40" height="25"/><text x="5" y="16">F<tspan dy="6">2/1</tspan></text></g>
<g id="b-r6-c11" class="n" transform="translate(516 302.5)"><rect width="40" height="25"/><text x="5" y="16">F<tspan dy="6">2/1</tspan></text></g>
<g id="b-r6-c12" class="n" transform="translate(563 302.5)"><rect width="40" height="25"/><text x="5" y="16">F<tspan dy="6">2/1</tspan></text></g>
<g id="b-r6-c13" class="n k" transform="translate(618 302.5)"><rect width="40" height="25"/><text x="5" y="16">F<tspan dy="6">2/1</tspan></text></g>
<g id="b-r6-c14" class="n" transform="translate(665 302.5)"><rect width="40" height="25"/><text x="5" y="16">F<tspan dy="6">2/1</tspan></text></g>
<g id="b-r6-c15" class="n" transform="translate(712 302.5)"><rect width="40" height="25"/><text x="5" y="16">F<tspan dy="6">2/1</tspan></text></g>
<g id="b-r6-c16" class="n" transform="translate(759 302.5)"><rect width="40" height="25"/><text x="5" y="16">F<tspan dy="6">2/1</tspan></text></g>
</g>
<g id="digits-a">
<text class="d" x="38" y="48">0</text><text class="d" x="62" y="48">0</text><text class="d" x="85" y="48">0</text><text class="d" x="109" y="48">0</text><text class="d" x="132" y="48">0</text><text class="d" x="156" y="48">0</text><text class="d" x="179" y="48">0</text><text class="d" x="203" y="48">0</text>
<text class="d" x="234" y="48">0</text><text class="d" x="258" y="48">0</text><text class="d" x="281" y="48">0</text><text class="d" x="305" y="48">0</text><text class="d" x="328" y="48">0</text><text class="d" x="352" y="48">0</text><text class="d" x="371" y="46">0</text><text class="d" x="399" y="48">0</text>
<text class="d" x="430" y="48">0</text><text class="d" x="454" y="48">0</text><text class="d" x="477" y="48">0</text><text class="d" x="501" y="48">0</text><text class="d" x="524" y="48">0</text><text class="d" x="548" y="48">0</text><text class="d" x="571" y="48">0</text><text class="d" x="595" y="48">0</text>
<text class="d" x="626" y="48">0</text><text class="d" x="650" y="48">0</text><text class="d" x="673" y="48">0</text><text class="d" x="697" y="48">0</text><text class="d" x="720" y="48">0</text><text class="d" x="744" y="48">0</text><text class="d" x="767" y="48">1</text><text class="d" x="791" y="48">0</text>
<text class="d" x="38" y="363.5">0</text><text class="d" x="62" y="363.5">0</text><text class="d" x="85" y="365">0</text><text class="d" x="109" y="363.5">0</text><text class="d" x="132" y="363.5">0</text><text class="d" x="156" y="363.5">0</text><text class="d" x="179" y="363.5">0</text><text class="d" x="203" y="363.5">0</text>
<text class="d" x="234" y="363.5">0</text><text class="d" x="258" y="363.5">0</text><text class="d" x="281" y="363.5">0</text><text class="d" x="305" y="363.5">0</text><text class="d" x="328" y="363.5">0</text><text class="d" x="352" y="363.5">0</text><text class="d" x="375" y="363.5">0</text><text class="d" x="399" y="363.5">0</text>
<text class="d" x="430" y="363.5">0</text><text class="d" x="454" y="363.5">0</text><text class="d" x="477" y="363.5">0</text><text class="d" x="501" y="363.5">0</text><text class="d" x="524" y="363.5">0</text><text class="d" x="548" y="363.5">0</text><text class="d" x="571" y="363.5">0</text><text class="d" x="595" y="363.5">0</text>
<text class="d" x="626" y="365">1</text><text class="d" x="650" y="363.5">0</text><text class="d" x="673" y="363.5">0</text><text class="d" x="697" y="363.5">0</text><text class="d" x="720" y="363.5">0</text><text class="d" x="744" y="363.5">0</text><text class="d" x="767" y="363.5">0</text><text class="d" x="791" y="363.5">0</text>
</g>
<g id="digits-b" transform="translate(0 368)">
<text class="d" x="38" y="48">0</text><text class="d" x="62" y="48">0</text><text class="d" x="85" y="48">0</text><text class="d" x="109" y="48">0</text><text class="d" x="132" y="48">0</text><text class="d" x="156" y="48">0</text><text class="d" x="179" y="48">0</text><text class="d" x="203" y="48">0</text>
<text class="d" x="234" y="48">0</text><text class="d" x="258" y="48">0</text><text class="d" x="281" y="48">0</text><text class="d" x="305" y="48">0</text><text class="d" x="328" y="48">0</text><text class="d" x="352" y="48">0</text><text class="d" x="371" y="46">0</text><text class="d" x="399" y="48">0</text>
<text class="d" x="430" y="48">0</text><text class="d" x="454" y="48">0</text><text class="d" x="477" y="48">0</text><text class="d" x="501" y="48">0</text><text class="d" x="524" y="48">0</text><text class="d" x="548" y="48">0</text><text class="d" x="571" y="48">0</text><text class="d" x="595" y="48">0</text>
<text class="d" x="626" y="48">0</text><text class="d" x="650" y="48">0</text><text class="d" x="673" y="48">0</text><text class="d" x="697" y="48">0</text><text class="d" x="720" y="48">0</text><text class="d" x="744" y="48">0</text><text class="d" x="767" y="48">1</text><text class="d" x="791" y="48">0</text>
<text class="d" x="38" y="361">0</text><text class="d" x="62" y="361">0</text><text class="d" x="85" y="361">0</text><text class="d" x="109" y="361">0</text><text class="d" x="132" y="361">0</text><text class="d" x="156" y="361">0</text><text class="d" x="179" y="361">0</text><text class="d" x="203" y="361">0</text>
<text class="d" x="234" y="361">0</text><text class="d" x="258" y="361">0</text><text class="d" x="281" y="361">0</text><text class="d" x="305" y="361">0</text><text class="d" x="328" y="361">0</text><text class="d" x="352" y="361">0</text><text class="d" x="375" y="361">0</text><text class="d" x="399" y="361">0</text>
<text class="d" x="430" y="361">0</text><text class="d" x="454" y="361">0</text><text class="d" x="477" y="361">0</text><text class="d" x="501" y="361">0</text><text class="d" x="524" y="361">0</text><text class="d" x="548" y="361">0</text><text class="d" x="571" y="361">0</text><text class="d" x="595" y="361">0</text>
<text class="d" x="626" y="361">1</text><text class="d" x="650" y="361">0</text><text class="d" x="673" y="361">0</text><text class="d" x="697" y="361">0</text><text class="d" x="720" y="361">0</text><text class="d" x="744" y="361">0</text><text class="d" x="767" y="361">0</text><text class="d" x="791" y="361">0</text>
</g>
</svg>
